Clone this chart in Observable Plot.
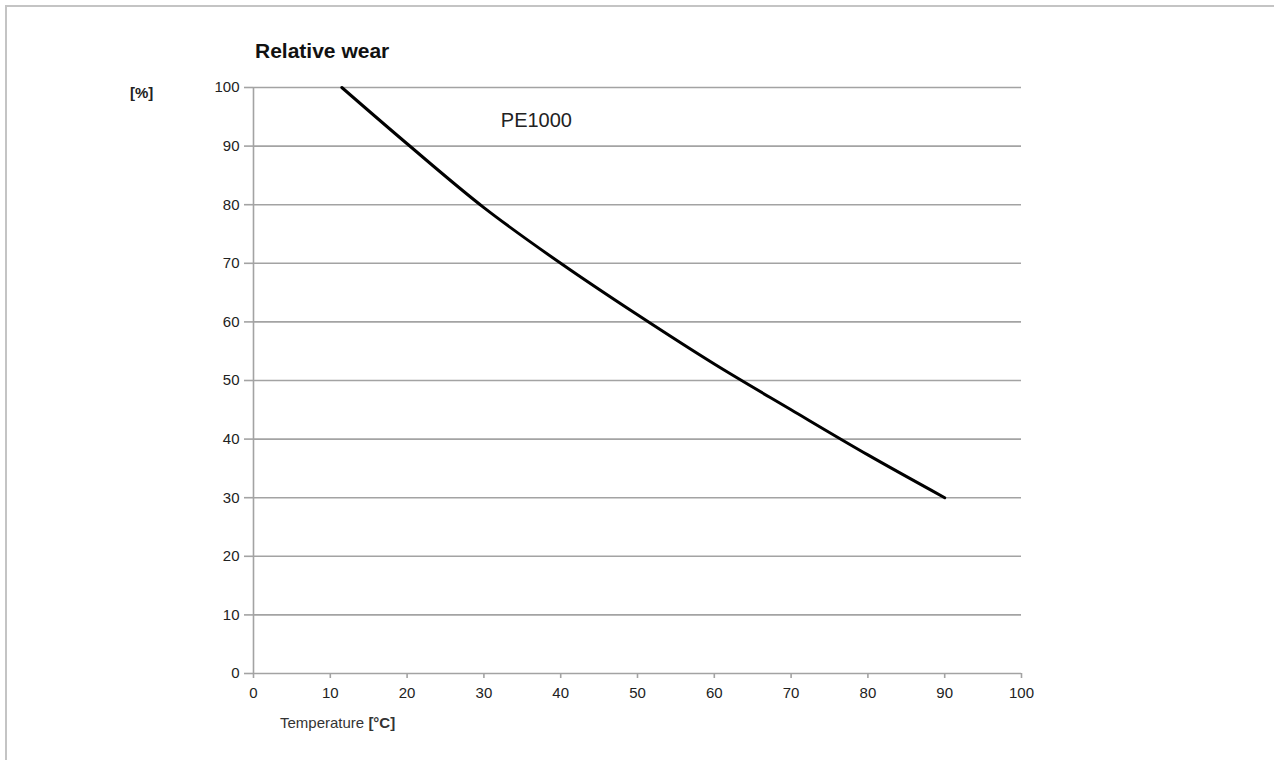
<!DOCTYPE html>
<html>
<head>
<meta charset="utf-8">
<script src="https://cdn.jsdelivr.net/npm/d3@7"></script>
<script src="https://cdn.jsdelivr.net/npm/@observablehq/plot@0.6"></script>
<style>
  html, body { margin: 0; padding: 0; background: #fff; }
  body { width: 1274px; height: 760px; position: relative; overflow: hidden;
         font-family: "Liberation Sans", Arial, Helvetica, sans-serif; color: #222; }
  #frame { position: absolute; left: 5px; top: 5px; width: 1400px; height: 900px;
           border-left: 2px solid #c4c4c4; border-top: 2px solid #c4c4c4; }
  #chart { position: absolute; left: 0; top: 0; }
  .lbl { position: absolute; white-space: nowrap; }
  #title { left: 255px; top: 39px; font-size: 21px; font-weight: bold; color: #111; }
  #yunit { left: 130px; top: 84px; font-size: 15px; font-weight: bold; color: #222; }
  #xtitle { left: 280px; top: 714px; font-size: 15px; color: #333; }
</style>
</head>
<body>
<div id="frame"></div>
<div id="chart"></div>
<div class="lbl" id="title">Relative wear</div>
<div class="lbl" id="yunit">[%]</div>
<div class="lbl" id="xtitle">Temperature <b>[°C]</b></div>
<script>
// Data
const temperature = [11.5, 20, 30, 40, 50, 60, 70, 80, 90];
const wear        = [100, 90.4, 79.5, 70, 61.2, 52.8, 45, 37.3, 30];
const xTicks = [0, 10, 20, 30, 40, 50, 60, 70, 80, 90, 100];
const yTicks = [0, 10, 20, 30, 40, 50, 60, 70, 80, 90, 100];
const seriesLabel = [{x: 32.2, y: 94.3, text: "PE1000"}];

const data = temperature.map((t, i) => ({t, w: wear[i]}));
const gray = "#a3a3a3";

const chart = Plot.plot({
  width: 1274,
  height: 760,
  marginLeft: 253,
  marginRight: 253,
  marginTop: 87,
  marginBottom: 87,
  style: {fontFamily: '"Liberation Sans", Arial, Helvetica, sans-serif', fontSize: "15px", color: "#222", background: "transparent"},
  x: {domain: [0, 100]},
  y: {domain: [0, 100]},
  marks: [
    Plot.ruleY(yTicks.filter(d => d > 0), {stroke: gray, strokeWidth: 1.6}),
    Plot.ruleY([0], {stroke: gray, strokeWidth: 1.6}),
    Plot.ruleX([0], {stroke: gray, strokeWidth: 1.6}),
    Plot.axisY({ticks: yTicks, tickSize: 9, tickPadding: 5, stroke: gray, strokeWidth: 1.6, fill: "#222", label: null, tickFormat: d => String(d)}),
    Plot.axisX({ticks: xTicks, tickSize: 5, tickPadding: 9, stroke: gray, strokeWidth: 1.6, fill: "#222", label: null, tickFormat: d => String(d)}),
    Plot.line(data, {x: "t", y: "w", stroke: "#000", strokeWidth: 3, curve: "catmull-rom"}),
    Plot.text(seriesLabel, {x: "x", y: "y", text: "text", textAnchor: "start", fontSize: 20, fill: "#222"})
  ]
});
document.getElementById("chart").appendChild(chart);
</script>
</body>
</html>
